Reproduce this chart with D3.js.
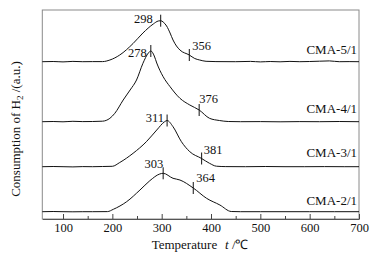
<!DOCTYPE html>
<html><head><meta charset="utf-8">
<script src="https://cdn.jsdelivr.net/npm/d3@7"></script>
<style>body{margin:0;background:#fff;} svg{display:block;}</style>
</head><body>
<script>
// Data (a.u. values; higher = more H2 consumption)
const seriesNames = ["CMA-5/1","CMA-4/1","CMA-3/1","CMA-2/1"];
const temp5 = [58,80,100,120,140,160,180,195,215,242,262,283,293,298,303,310,317,323,330,337,356,367,377,390,410,450,480,500,520,540,560,580,600,620,640,660,680,700];
const val5  = [157.3,157.5,157.1,157.6,157.3,157.4,157.4,159,164,175.5,186,195,198,198.3,197,193,186,179,173,169,164,160.5,159,157.7,157.4,157.3,157.6,157.1,157.5,157.2,157.6,157.3,157.5,157.8,158.1,157.3,157.4,157.3];
const temp4 = [58,80,100,120,140,160,180,195,205,222,236,249,262,273,278,285,290,303,317,337,357,376,397,417,435,460,500,540,580,620,660,700];
const val4  = [97.3,97.5,97.2,97.7,97.4,97.5,97.8,100.7,105.7,119,129,139,155.7,166,168,163,156,142.3,132.3,120.7,114,109,100.7,98.5,97.5,97.3,97.4,97.2,97.4,97.3,97.5,97.3];
const temp3 = [58,80,100,120,140,160,180,200,215,242,269,290,306,311,323,340,357,381,397,411,430,470,510,550,590,630,670,700];
const val3  = [52.3,52.5,52.3,52.1,52.4,52.3,52.5,52.7,56.5,65.7,77.3,89,97.3,98.5,92.3,77.3,67.3,60.5,55.7,52.8,52.4,52.3,52.5,52.3,52.3,52.4,52.3,52.3];
const temp2 = [58,80,100,120,140,160,190,202,229,256,276,296,303,323,337,364,391,418,441,460,500,550,600,650,700];
const val2  = [7.3,7.5,7.3,7.2,7.3,7.3,7.4,9.7,17.3,29,38.3,45,45.7,40.7,39,31,20.7,14,7.5,7.3,7.3,7.3,7.3,7.3,7.3];
const peakTemps   = [298,278,311,303];
const secondTemps = [356,376,381,364];
const xTicks = [100,200,300,400,500,600,700];
const xMinorTicks = [150,250,350,450,550,650];

const temps = [temp5,temp4,temp3,temp2];
const vals = [val5,val4,val3,val2];

const W=388,H=259;
const L=42.3,R=359,T=10,B=219;
const svg=d3.select("body").append("svg").attr("width",W).attr("height",H);
const x=d3.scaleLinear().domain([58,700]).range([L,R]);
const y=d3.scaleLinear().domain([0,209]).range([B,T]);
const font="'Liberation Serif','Times New Roman',serif";

// frame
svg.append("rect").attr("x",L).attr("y",T).attr("width",R-L).attr("height",B-T)
  .attr("fill","none").attr("stroke","#8a8a8a").attr("stroke-width",1);

// x axis ticks inward
const ax=svg.append("g").attr("transform",`translate(0,${B})`)
  .call(d3.axisBottom(x).tickValues(xTicks).tickSizeInner(-5).tickSizeOuter(0).tickPadding(4).tickFormat(d3.format("d")));
ax.select(".domain").attr("stroke","#555");
ax.selectAll(".tick line").attr("stroke","#444");
ax.selectAll("text").attr("font-family",font).attr("font-size",12.5).attr("fill","#111");
const axm=svg.append("g").attr("transform",`translate(0,${B})`)
  .call(d3.axisBottom(x).tickValues(xMinorTicks).tickSizeInner(-3).tickSizeOuter(0).tickFormat(""));
axm.select(".domain").remove();
axm.selectAll(".tick line").attr("stroke","#444");

const line=d3.line().x(d=>x(d[0])).y(d=>y(d[1])).curve(d3.curveMonotoneX);
function interp(ts,vs,t){
  for(let i=0;i<ts.length-1;i++){ if(t>=ts[i]&&t<=ts[i+1]){const f=(t-ts[i])/(ts[i+1]-ts[i]);return vs[i]+f*(vs[i+1]-vs[i]);} }
  return vs[vs.length-1];
}
const labelDy=[-7.4,-8.4,-10,-6.7];
const peakDx=[-8,-4,-3,0], peakDy=[2,6,1,-5];
const secDx=[3,0,2,3], secDy=[-5,-7,-5,-6];
seriesNames.forEach((name,i)=>{
  const pts=temps[i].map((t,j)=>[t,vals[i][j]]);
  svg.append("path").attr("d",line(pts)).attr("fill","none").attr("stroke","#111").attr("stroke-width",1);
  const base=vals[i][0];
  svg.append("text").attr("x",357).attr("y",y(base)+labelDy[i]).attr("text-anchor","end")
    .attr("font-family",font).attr("font-size",13).attr("fill","#111").text(name);
  [peakTemps[i],secondTemps[i]].forEach((t)=>{
    const yy=y(interp(temps[i],vals[i],t));
    svg.append("line").attr("x1",x(t)).attr("x2",x(t)).attr("y1",yy-6).attr("y2",yy+6)
      .attr("stroke","#111").attr("stroke-width",1);
  });
  const py=y(interp(temps[i],vals[i],peakTemps[i]));
  const sy=y(interp(temps[i],vals[i],secondTemps[i]));
  svg.append("text").attr("x",x(peakTemps[i])+peakDx[i]).attr("y",py+peakDy[i]).attr("text-anchor","end")
    .attr("font-family",font).attr("font-size",12.5).attr("fill","#111").text(peakTemps[i]);
  svg.append("text").attr("x",x(secondTemps[i])+secDx[i]).attr("y",sy+secDy[i]).attr("text-anchor","start")
    .attr("font-family",font).attr("font-size",12.5).attr("fill","#111").text(secondTemps[i]);
});

// axis titles
const xt=svg.append("text").attr("x",151.7).attr("y",249).attr("font-family",font).attr("font-size",13).attr("fill","#111");
xt.append("tspan").text("Temperature");
xt.append("tspan").attr("x",225).attr("font-style","italic").text("t");
xt.append("tspan").text(" /℃");

const yt=svg.append("text").attr("transform","translate(20,129) rotate(-90)").attr("text-anchor","middle")
  .attr("font-family",font).attr("font-size",13).attr("fill","#111");
yt.append("tspan").text("Consumption of H");
yt.append("tspan").attr("font-size",9).attr("dy",3).text("2");
yt.append("tspan").attr("dy",-3).text(" /(a.u.)");
</script>
</body></html>
